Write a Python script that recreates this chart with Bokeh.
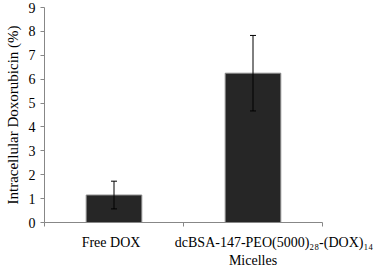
from bokeh.plotting import figure
from bokeh.models import (ColumnDataSource, Whisker, FixedTicker, TeeHead,
                          LinearAxis)
from bokeh.embed import file_html
from bokeh.resources import INLINE

label_line1 = ["Free DOX", "dcBSA-147-PEO(5000)\u2082\u2088-(DOX)\u2081\u2084"]
label_line2 = ["", "Micelles"]
values = [1.15, 6.25]
errors = [0.58, 1.58]
y_ticks = [0, 1, 2, 3, 4, 5, 6, 7, 8, 9]

positions = [i + 0.5 for i in range(len(values))]
src = ColumnDataSource(dict(
    x=positions,
    top=values,
    lower=[v - e for v, e in zip(values, errors)],
    upper=[v + e for v, e in zip(values, errors)],
))

W, H = 388, 270
LEFT, RIGHT, TOP = 44, 66, 7
p = figure(width=W, height=H, output_backend="svg", toolbar_location=None,
           x_range=(0, len(values)), y_range=(0, 9),
           min_border_left=LEFT, min_border_right=RIGHT, min_border_top=TOP,
           min_border_bottom=0)

p.vbar(x="x", top="top", width=0.4, source=src, fill_color="#262626",
       line_color="#8c8c8c", line_width=1)

w = Whisker(source=src, base="x", lower="lower", upper="upper",
            line_color="black", line_width=1, level="overlay")
w.upper_head = TeeHead(size=6, line_color="black", line_width=1)
w.lower_head = TeeHead(size=6, line_color="black", line_width=1)
p.add_layout(w)

font = "Liberation Serif"
axis_col = "#878787"

p.xgrid.visible = False
p.ygrid.visible = False
p.outline_line_color = None

# first line of category labels, placed like the original (second one shifted right)
px_per_unit = (W - LEFT - RIGHT) / len(values)
x_offsets_px = [-3, 21]
label_ticks = [pos + off / px_per_unit for pos, off in zip(positions, x_offsets_px)]

xa = p.xaxis[0]
xa.ticker = FixedTicker(ticks=label_ticks, minor_ticks=[0, 1, 2])
xa.major_label_overrides = {t: s for t, s in zip(label_ticks, label_line1)}
xa.major_tick_line_color = None
xa.major_tick_out = 0
xa.major_tick_in = 0
xa.minor_tick_line_color = axis_col
xa.minor_tick_out = 4
xa.minor_tick_in = 0
xa.axis_line_color = axis_col
xa.major_label_text_font = font
xa.major_label_text_font_size = "14px"
xa.major_label_text_color = "black"
xa.major_label_standoff = 8

# second line of category labels
xb = LinearAxis(ticker=FixedTicker(ticks=positions, minor_ticks=[]))
xb.major_label_overrides = {t: s for t, s in zip(positions, label_line2)}
xb.axis_line_color = None
xb.major_tick_line_color = None
xb.minor_tick_line_color = None
xb.major_tick_out = 0
xb.major_tick_in = 0
xb.minor_tick_out = 0
xb.major_label_text_font = font
xb.major_label_text_font_size = "14px"
xb.major_label_text_color = "black"
xb.major_label_standoff = 0
p.add_layout(xb, "below")

ya = p.yaxis[0]
ya.ticker = FixedTicker(ticks=y_ticks)
ya.minor_tick_line_color = None
ya.major_tick_out = 4
ya.major_tick_in = 0
ya.major_tick_line_color = axis_col
ya.axis_line_color = axis_col
ya.major_label_text_font = font
ya.major_label_text_font_size = "14px"
ya.major_label_text_color = "black"
ya.major_label_standoff = 5
ya.axis_label = "Intracellular Doxorubicin (%)"
ya.axis_label_text_font = font
ya.axis_label_text_font_size = "15px"
ya.axis_label_text_font_style = "normal"
ya.axis_label_text_color = "black"
ya.axis_label_standoff = 5

open("out.html", "w").write(file_html(p, INLINE))
